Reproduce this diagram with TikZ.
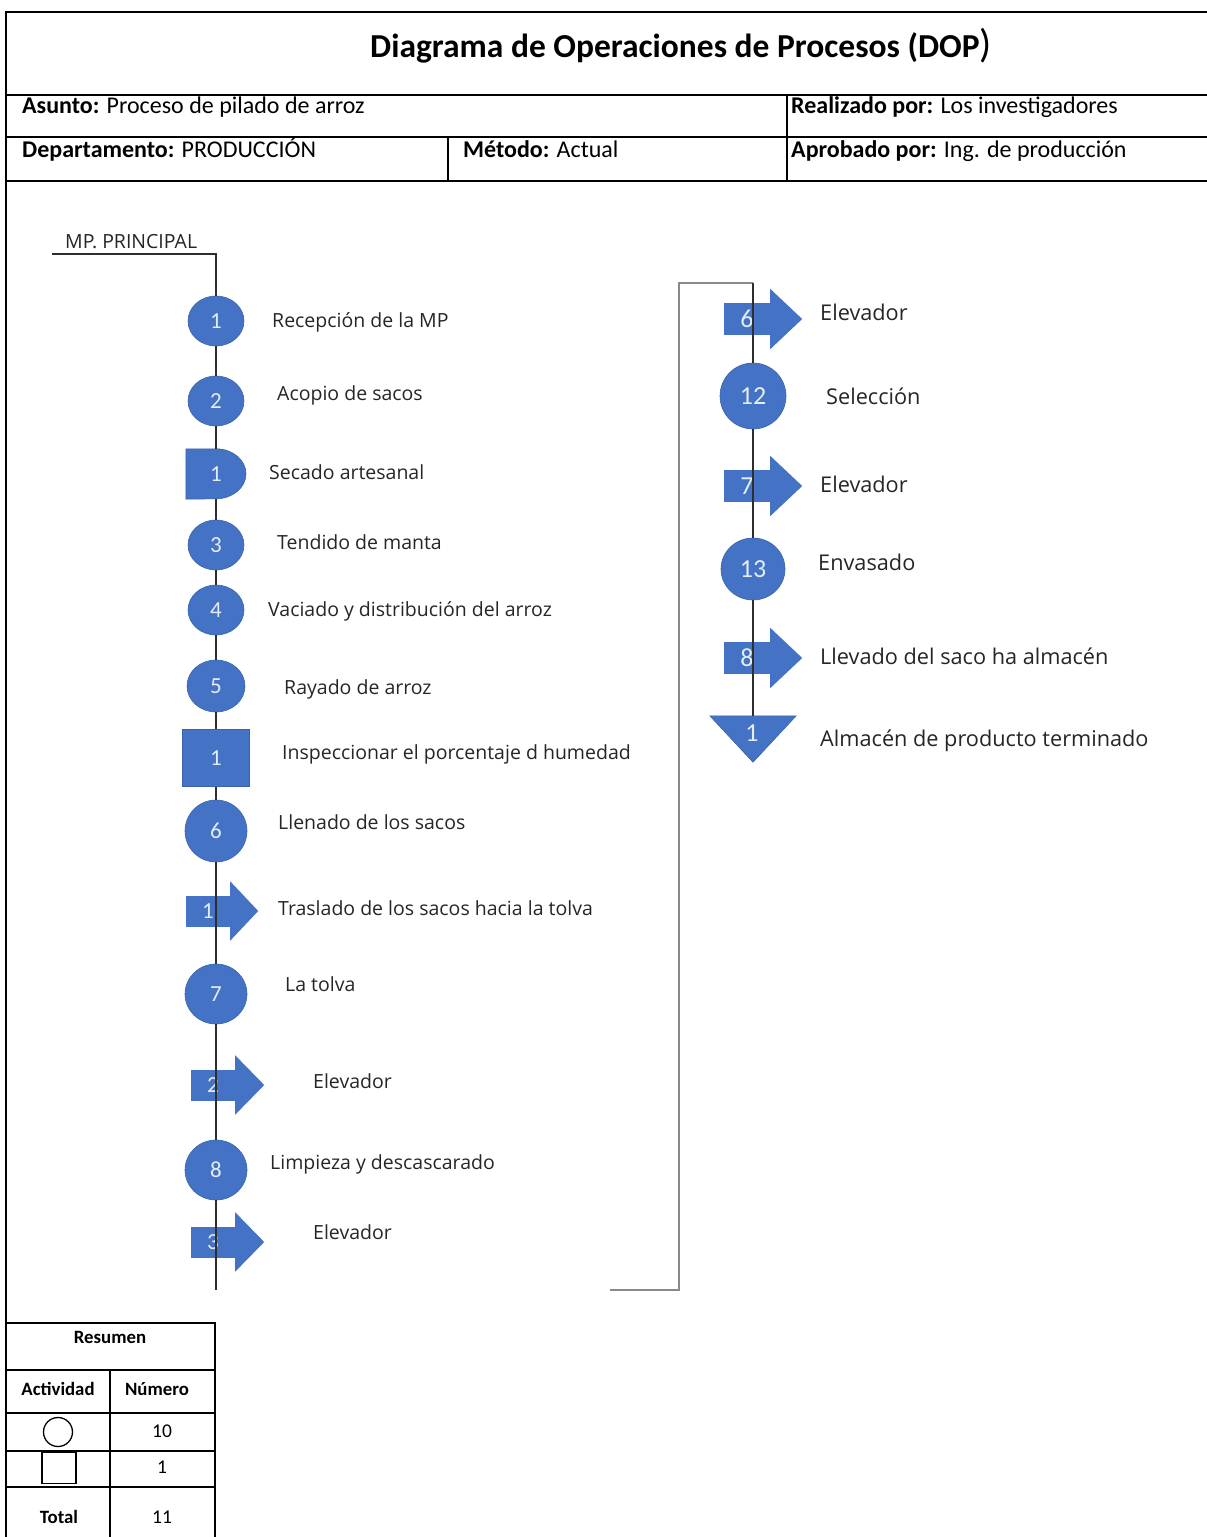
\documentclass[tikz,border=0pt]{standalone}
\usepackage{fontspec}
\setmainfont{Carlito}
\newfontfamily\flowfont{Open Sans}
\usetikzlibrary{shapes.geometric,backgrounds,calc}
\definecolor{opblue}{HTML}{4472C4}
\definecolor{opedge}{HTML}{3A63AE}
\definecolor{numtxt}{HTML}{E4ECF8}
\definecolor{flowline}{HTML}{2E2E2E}
\definecolor{bracketgray}{HTML}{8A8A8A}
\definecolor{labeltxt}{HTML}{262626}

\begin{document}
\begin{tikzpicture}[x=1pt,y=1pt,
  frame/.style={line width=2.4pt, black},
  hdr/.style={anchor=mid west, inner sep=0, font=\fontsize{24}{28}\selectfont},
  ttl/.style={inner sep=0, font=\fontsize{33.5}{40}\selectfont\bfseries},
  lbl/.style={anchor=mid west, inner sep=0, yshift=-4, text=labeltxt, font=\flowfont\fontsize{19.5}{23}\selectfont},
  lblr/.style={lbl, font=\flowfont\fontsize{21.7}{26}\selectfont},
  num/.style={text=numtxt, font=\fontsize{23}{27}\selectfont, inner sep=0},
  numr/.style={text=numtxt, font=\fontsize{26}{30}\selectfont, inner sep=0},
  oper/.style={num, ellipse, fill=opblue, draw=opedge, line width=0.6pt},
  operr/.style={oper, numr},
  carry/.style={num, rectangle, fill=opblue, minimum width=44, minimum height=31},
  carryr/.style={carry, numr, minimum width=46, minimum height=32},
  insp/.style={num, rectangle, fill=opblue, draw=opedge, line width=0.6pt, minimum width=67, minimum height=57},
  flow/.style={flowline, line width=1.6pt},
  brk/.style={bracketgray, line width=1.4pt},
  cell/.style={inner sep=0, font=\fontsize{19.5}{23}\selectfont},
  cellb/.style={inner sep=0, font=\fontsize{18.8}{22}\selectfont\bfseries},
]
\useasboundingbox (0,0) rectangle (1207,-1537);

% ---------- header table ----------
\draw[frame] (6,-1537) -- (6,-12) -- (1207,-12);
\draw[frame] (6,-95) -- (1207,-95);
\draw[frame] (6,-137) -- (1207,-137);
\draw[frame] (6,-181) -- (1207,-181);
\draw[frame] (787,-95) -- (787,-181);
\draw[frame] (448,-137) -- (448,-181);

\node[ttl] (title) at (681,-46) {Diagrama de Operaciones de Procesos (DOP{\fontsize{40}{44}\selectfont\mdseries )}};
\node[hdr] (asunto) at (22,-111) {\textbf{Asunto:} Proceso de pilado de arroz};
\node[hdr] (realiz) at (791,-111) {\textbf{Realizado por:} Los investigadores};
\node[hdr] (depto) at (22,-155) {\textbf{Departamento:} PRODUCCIÓN};
\node[hdr] (metodo) at (463,-155) {\textbf{Método:} Actual};
\node[hdr] (aprob) at (791,-155) {\textbf{Aprobado por:} Ing. de producción};

% ---------- left column ----------
\node[lbl, font=\flowfont\fontsize{19.5}{23}\selectfont] (mptxt) at (65,-242) {MP. PRINCIPAL};
\coordinate (mpstart) at (52,-254);
\coordinate (mpcorner) at (216,-254);

\node[oper, minimum width=56, minimum height=50] (o1) at (216,-321) {1};
\node[oper, minimum width=56, minimum height=50] (o2) at (216,-401) {2};
\node[num, minimum width=60, minimum height=50] (d1) at (216,-474) {1};
\node[oper, minimum width=56, minimum height=50] (o3) at (216,-545) {3};
\node[oper, minimum width=56, minimum height=50] (o4) at (216,-610) {4};
\node[oper, minimum width=58, minimum height=52] (o5) at (216,-686) {5};
\node[insp] (i1) at (216,-758) {1};
\node[oper, minimum width=62, minimum height=62] (o6) at (216,-831) {6};
\node[carry] (t1) at (208,-911) {1};
\node[oper, minimum width=62, minimum height=60] (o7) at (216,-994) {7};
\node[carry] (t2) at (213,-1085) {2};
\node[oper, minimum width=62, minimum height=60] (o8) at (216,-1170) {8};
\node[carry] (t3) at (213,-1242) {3};
\coordinate (lend) at (216,-1290);

\node[lbl] (l1) at (272,-321) {Recepción de la MP};
\node[lbl] (l2) at (277,-394) {Acopio de sacos};
\node[lbl] (l3) at (269,-473) {Secado artesanal};
\node[lbl] (l4) at (277,-543) {Tendido de manta};
\node[lbl] (l5) at (268,-610) {Vaciado y distribución del arroz};
\node[lbl] (l6) at (284,-688) {Rayado de arroz};
\node[lbl] (l7) at (282,-753) {Inspeccionar el porcentaje d humedad};
\node[lbl] (l8) at (278,-823) {Llenado de los sacos};
\node[lbl] (l9) at (278,-909) {Traslado de los sacos hacia la tolva};
\node[lbl] (l10) at (285,-985) {La tolva};
\node[lbl] (l11) at (313,-1082) {Elevador};
\node[lbl] (l12) at (270,-1163) {Limpieza y descascarado};
\node[lbl] (l13) at (313,-1233) {Elevador};

% ---------- right column ----------
\coordinate (rtop) at (753,-283);
\coordinate (btop) at (679,-283);
\coordinate (bcorner) at (679,-1290);
\coordinate (bend) at (610,-1290);

\node[carryr] (t6) at (747,-319) {6};
\node[operr, minimum width=66, minimum height=66] (o12) at (753,-396) {12};
\node[carryr] (t7) at (747,-486) {7};
\node[operr, minimum width=64, minimum height=62] (o13) at (753,-569) {13};
\node[carryr] (t8) at (747,-658) {8};
\node[minimum width=86, minimum height=46, inner sep=0] (st) at (753,-739) {};
\node[numr] (stnum) at (752,-733) {1};

\node[lblr] (r1) at (820,-314) {Elevador};
\node[lblr] (r2) at (826,-398) {Selección};
\node[lblr] (r3) at (820,-486) {Elevador};
\node[lblr] (r4) at (818,-564) {Envasado};
\node[lblr] (r5) at (820,-658) {Llevado del saco ha almacén};
\node[lblr] (r6) at (820,-740) {Almacén de producto terminado};

% shapes that are built from node anchors
\begin{scope}[on background layer]
  \fill[white] (0,0) rectangle (1207,-1537);
  \foreach \t/\len in {t1/28, t2/29, t3/29, t6/32, t7/32, t8/32} {
    \fill[opblue] ($(\t.north east)+(0,14)$) -- ($(\t.east)+(\len,0)$)
      -- ($(\t.south east)+(0,-14)$) -- cycle;
  }
  \filldraw[fill=opblue, draw=opedge, line width=0.6pt]
    (d1.north west) -- (d1.north) arc[start angle=90, end angle=-90, x radius=30, y radius=25]
    -- (d1.south west) -- cycle;
  \filldraw[fill=opblue, draw=opedge, line width=0.6pt]
    (st.north west) -- (st.north east) -- (st.south) -- cycle;
\end{scope}

% connectors
\draw[flow] (mpstart) -- (mpcorner) -- (o1);
\draw[flow] (o1) -- (o2);
\draw[flow] (o2) -- (d1);
\draw[flow] (d1) -- (o3);
\draw[flow] (o3) -- (o4);
\draw[flow] (o4) -- (o5);
\draw[flow] (o5) -- (i1);
\draw[flow] (i1) -- (o6);
\draw[flow] (o6) -- (o7);
\draw[flow] (o7) -- (o8);
\draw[flow] (o8) -- (lend);

\draw[brk] (bend) -- (bcorner) -- (btop) -- (rtop);
\draw[flow] (rtop) -- (o12);
\draw[flow] (o12) -- (o13);
\draw[flow] (o13) -- (st);

% ---------- summary table ----------
\draw[frame] (6,-1323) -- (215,-1323) -- (215,-1537);
\draw[frame] (6,-1370) -- (215,-1370);
\draw[frame] (6,-1413) -- (215,-1413);
\draw[frame] (6,-1451) -- (215,-1451);
\draw[frame] (6,-1487) -- (215,-1487);
\draw[frame] (110,-1370) -- (110,-1537);

\node[cellb] (res) at (110,-1337) {Resumen};
\node[cellb] (act) at (58,-1389) {Actividad};
\node[cellb] (nro) at (157,-1389) {Número};
\node[draw, circle, minimum size=29, line width=1.3pt, inner sep=0] (symop) at (58,-1432) {};
\node[cell] (n10) at (162,-1431) {10};
\node[draw, rectangle, minimum width=34, minimum height=31, line width=1.5pt, inner sep=0] (symin) at (59,-1468) {};
\node[cell] (n1) at (162,-1467) {1};
\node[cellb] (tot) at (59,-1517) {Total};
\node[cell] (n11) at (162,-1517) {11};
\end{tikzpicture}
\end{document}
